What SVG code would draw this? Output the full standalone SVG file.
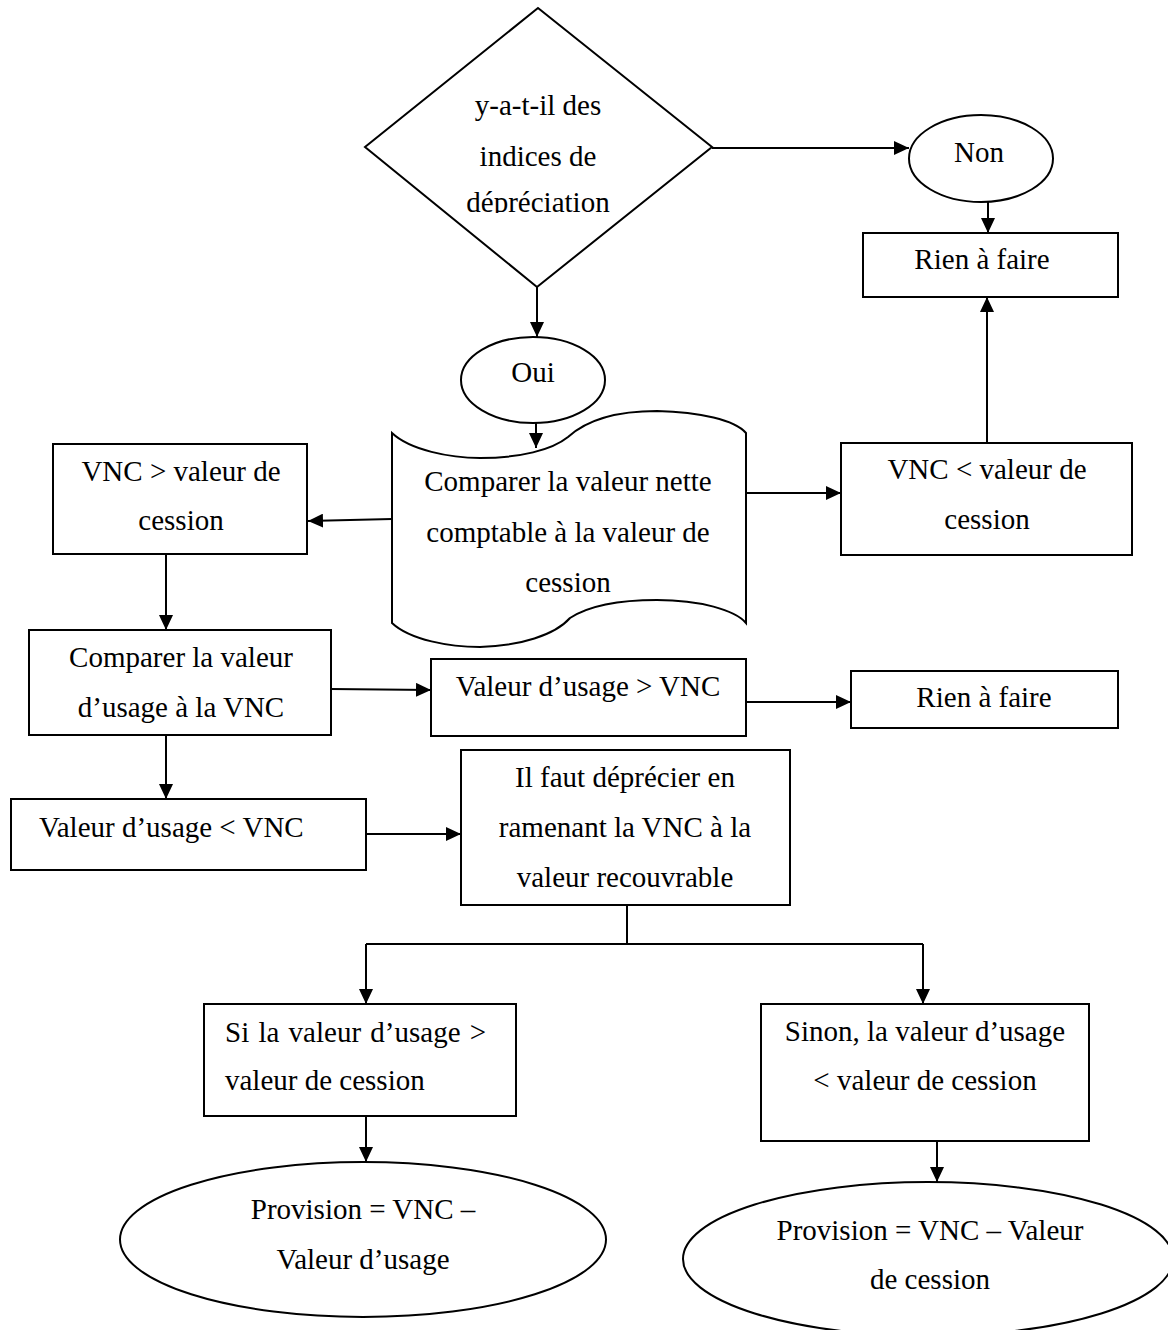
<svg xmlns="http://www.w3.org/2000/svg" width="1168" height="1330" viewBox="0 0 1168 1330">
  <style>
    .shape { fill: #ffffff; stroke: #000000; stroke-width: 2; }
    .link { fill: none; stroke: #000000; stroke-width: 2; }
    .arrow { fill: none; stroke: #000000; stroke-width: 2; marker-end: url(#head); }
    text { font-family: "Liberation Serif", "Times New Roman", serif; font-size: 29px; fill: #000000; }
    .c { text-anchor: middle; }
  </style>
  <defs>
    <marker id="head" markerUnits="userSpaceOnUse" markerWidth="16" markerHeight="14" refX="15" refY="7" orient="auto">
      <path d="M0,0 L15,7 L0,14 z" fill="#000000"/>
    </marker>
    <clipPath id="diamondText">
      <rect x="360" y="60" width="360" height="153"/>
    </clipPath>
  </defs>

  <rect width="1168" height="1330" fill="#ffffff"/>

  <!-- connectors -->
  <g id="connectors">
    <path class="arrow" d="M712,148 H909"/>
    <path class="arrow" d="M537,287 V337"/>
    <path class="arrow" d="M988,202 V233"/>
    <path class="arrow" d="M536,423 V448"/>
    <path class="arrow" d="M392,519 L308,521"/>
    <path class="arrow" d="M746,493 H841"/>
    <path class="arrow" d="M987,443 V297"/>
    <path class="arrow" d="M166,554 V630"/>
    <path class="arrow" d="M331,689 L431,690"/>
    <path class="arrow" d="M746,702 H851"/>
    <path class="arrow" d="M166,735 V799"/>
    <path class="arrow" d="M366,834 H461"/>
    <path class="link" d="M627,905 V944 M366,944 H923"/>
    <path class="arrow" d="M366,944 V1004"/>
    <path class="arrow" d="M923,944 V1004"/>
    <path class="arrow" d="M366,1116 V1162"/>
    <path class="arrow" d="M937,1141 V1182"/>
  </g>

  <!-- decision -->
  <g id="decision">
    <polygon class="shape" points="538,8 712,147 537,287 365,147"/>
    <g clip-path="url(#diamondText)">
      <text class="c" x="538" y="115">y-a-t-il des</text>
      <text class="c" x="538" y="166">indices de</text>
      <text class="c" x="538" y="212">dépréciation</text>
    </g>
  </g>

  <g id="non">
    <ellipse class="shape" cx="981" cy="158.5" rx="72" ry="43.5"/>
    <text class="c" x="979" y="162">Non</text>
  </g>

  <g id="rien1">
    <rect class="shape" x="863" y="233" width="255" height="64"/>
    <text class="c" x="982" y="269">Rien à faire</text>
  </g>

  <g id="oui">
    <ellipse class="shape" cx="533" cy="380" rx="72" ry="43"/>
    <text class="c" x="533" y="382">Oui</text>
  </g>

  <!-- punched-tape document -->
  <g id="comparer-vnc">
    <path class="shape" d="M392,433 C410,450 450,458 480,458 C520,458 552,450 568,437 C590,417 622,411 657,411 C700,412 735,420 746,433 L746,623 C735,610 700,600 657,600 C622,600 590,605 570,618 C555,635 520,646 480,647 C450,647 410,640 392,623 Z"/>
    <text class="c" x="568" y="491">Comparer la valeur nette</text>
    <text class="c" x="568" y="542">comptable à la valeur de</text>
    <text class="c" x="568" y="592">cession</text>
  </g>

  <g id="vnc-sup">
    <rect class="shape" x="53" y="444" width="254" height="110"/>
    <text class="c" x="181" y="481">VNC &gt; valeur de</text>
    <text class="c" x="181" y="530">cession</text>
  </g>

  <g id="vnc-inf">
    <rect class="shape" x="841" y="443" width="291" height="112"/>
    <text class="c" x="987" y="479">VNC &lt; valeur de</text>
    <text class="c" x="987" y="529">cession</text>
  </g>

  <g id="comparer-usage">
    <rect class="shape" x="29" y="630" width="302" height="105"/>
    <text class="c" x="181" y="667">Comparer la valeur</text>
    <text class="c" x="181" y="717">d’usage à la VNC</text>
  </g>

  <g id="usage-sup">
    <rect class="shape" x="431" y="659" width="315" height="77"/>
    <text class="c" x="588" y="696">Valeur d’usage &gt; VNC</text>
  </g>

  <g id="rien2">
    <rect class="shape" x="851" y="671" width="267" height="57"/>
    <text class="c" x="984" y="707">Rien à faire</text>
  </g>

  <g id="usage-inf">
    <rect class="shape" x="11" y="799" width="355" height="71"/>
    <text x="39" y="837">Valeur d’usage &lt; VNC</text>
  </g>

  <g id="deprecier">
    <rect class="shape" x="461" y="750" width="329" height="155"/>
    <text class="c" x="625" y="787">Il faut déprécier en</text>
    <text class="c" x="625" y="837">ramenant la VNC à la</text>
    <text class="c" x="625" y="887">valeur recouvrable</text>
  </g>

  <g id="si">
    <rect class="shape" x="204" y="1004" width="312" height="112"/>
    <text x="225" y="1042" word-spacing="2">Si la valeur d’usage &gt;</text>
    <text x="225" y="1090">valeur de cession</text>
  </g>

  <g id="sinon">
    <rect class="shape" x="761" y="1004" width="328" height="137"/>
    <text class="c" x="925" y="1041">Sinon, la valeur d’usage</text>
    <text class="c" x="925" y="1090">&lt; valeur de cession</text>
  </g>

  <g id="provision-usage">
    <ellipse class="shape" cx="363" cy="1239.5" rx="243" ry="77.5"/>
    <text class="c" x="363" y="1219">Provision = VNC –</text>
    <text class="c" x="363" y="1269">Valeur d’usage</text>
  </g>

  <g id="provision-cession">
    <ellipse class="shape" cx="928" cy="1259" rx="245" ry="77"/>
    <text class="c" x="930" y="1240">Provision = VNC – Valeur</text>
    <text class="c" x="930" y="1289">de cession</text>
  </g>
</svg>
